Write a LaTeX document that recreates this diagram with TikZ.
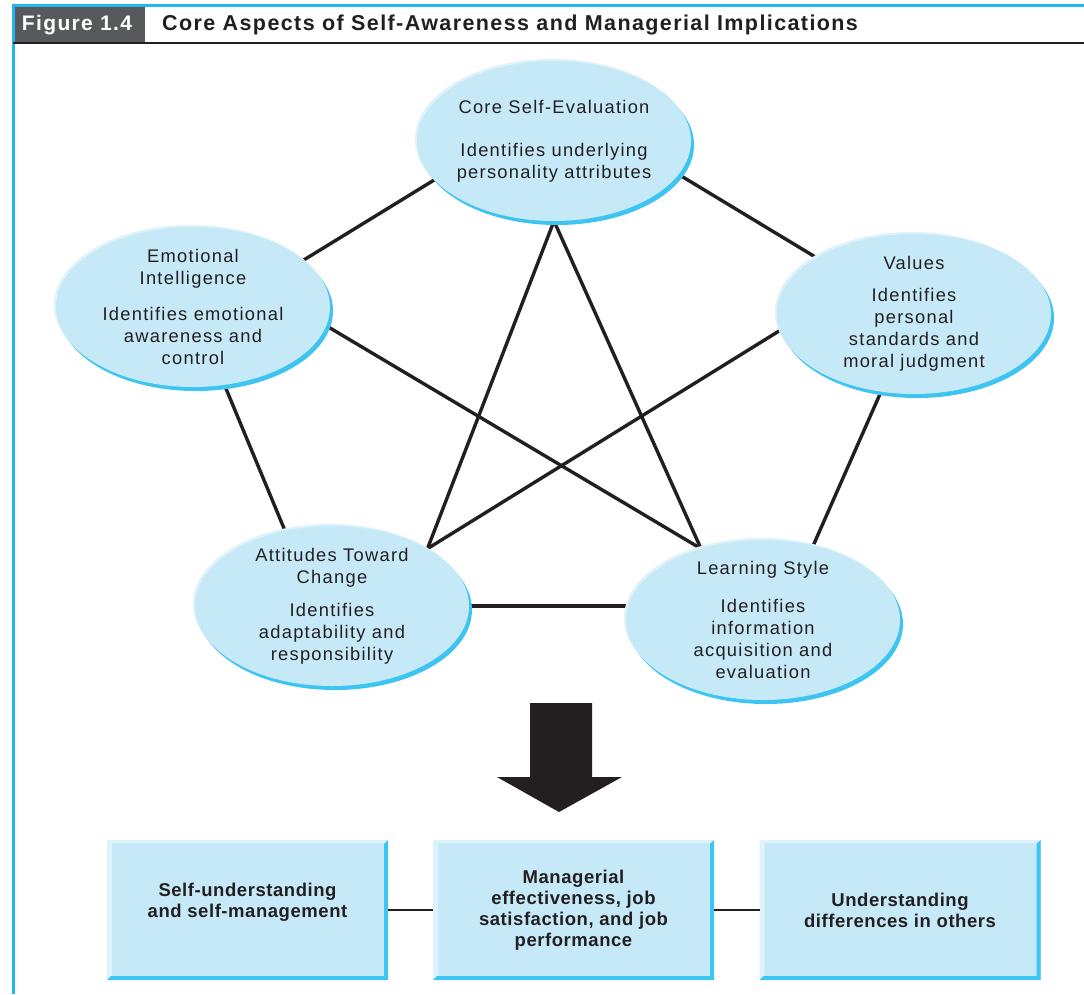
\documentclass[tikz,border=0pt]{standalone}
\usepackage{fontspec}
\setmainfont{Liberation Sans}
\newfontfamily\efont[LetterSpace=7]{Liberation Sans}
\newfontfamily\bxfont[LetterSpace=3]{Liberation Sans}
\newfontfamily\hdfont[LetterSpace=6.5]{Liberation Sans}
\usetikzlibrary{shapes.geometric,shadows,backgrounds}
\definecolor{ellfill}{HTML}{C6E9F8}
\definecolor{ellsh}{HTML}{3EC4F1}
\definecolor{ellhi}{HTML}{DDF2FB}
\definecolor{ink}{HTML}{231F20}
\definecolor{hdr}{HTML}{58595B}
\definecolor{frameblue}{HTML}{22B5EE}
\begin{document}
\begin{tikzpicture}[x=1pt,y=-1pt,
  ell/.style={ellipse, inner sep=0pt, outer sep=0pt, minimum width=274pt, minimum height=160pt, fill=ellfill,
    general shadow={fill=ellhi, shadow xshift=-2pt, shadow yshift=2pt},
    general shadow={fill=ellsh, shadow xshift=3pt, shadow yshift=-4pt}},
  etxt/.style={align=center, text=ink, inner sep=0pt, font=\efont\fontsize{18.3}{22}\selectfont},
  bx/.style={rectangle, inner sep=0pt, outer sep=0pt, minimum width=281pt, minimum height=140pt,
    fill=ellfill, align=center, text=ink, font=\bxfont\bfseries\fontsize{18.5}{21}\selectfont,
    path picture={
      \fill[ellhi] (path picture bounding box.south west) -- (path picture bounding box.north west)
        -- (path picture bounding box.north east) -- ([shift={(-4pt,-3pt)}]path picture bounding box.north east)
        -- ([shift={(5pt,-3pt)}]path picture bounding box.north west) -- ([shift={(5pt,3pt)}]path picture bounding box.south west) -- cycle;
      \fill[ellsh] (path picture bounding box.north east) -- (path picture bounding box.south east)
        -- (path picture bounding box.south west) -- ([shift={(4pt,4pt)}]path picture bounding box.south west)
        -- ([shift={(-4pt,4pt)}]path picture bounding box.south east) -- ([shift={(-4pt,-4pt)}]path picture bounding box.north east) -- cycle;
    }},
  link/.style={line width=3.4pt, draw=ink},
  blink/.style={line width=1.5pt, draw=ink}]
\useasboundingbox (0,0) rectangle (1084,994);
% frame and header
\fill[hdr] (14,7) rectangle (145,42);
\draw[frameblue, line width=2.5pt] (13.5,994) -- (13.5,5.5) -- (1084,5.5);
\draw[ink, line width=2pt] (13,43) -- (1084,43);
\node[text=white, font=\hdfont\bfseries\fontsize{21}{24}\selectfont, inner sep=0pt] (fig) at (77,25) {Figure 1.4};
\node[text=ink, font=\hdfont\bfseries\fontsize{21.5}{24}\selectfont, inner sep=0pt, anchor=west] (title) at (162,25) {Core Aspects of Self-Awareness and Managerial Implications};
% ellipses
\node[ell, label={[etxt]center:{Core Self-Evaluation\\[21pt]Identifies underlying\\personality attributes}}] (core) at (554,141) {};
\node[ell, label={[etxt]center:{Emotional\\Intelligence\\[14pt]Identifies emotional\\awareness and\\control}}] (ei) at (193,307) {};
\node[ell, label={[etxt]center:{Values\\[10pt]Identifies\\personal\\standards and\\moral judgment}}] (val) at (914,314) {};
\node[ell, label={[etxt]center:{Attitudes Toward\\Change\\[11pt]Identifies\\adaptability and\\responsibility}}] (atc) at (332,606) {};
\node[ell, label={[etxt]center:{Learning Style\\[16pt]Identifies\\information\\acquisition and\\evaluation}}] (ls) at (763,620) {};
% connectors
\begin{scope}[on background layer]
\fill[white] (0,0) rectangle (1084,994);
\draw[link] (core.198) -- (ei.23);
\draw[link] (core.345) -- (val.150);
\draw[link] (ei.292) -- (atc.122);
\draw[link] (val.247) -- (ls.56);
\draw[link] (atc.east) -- (atc.east -| ls.west);
\draw[link] (core.south) -- (atc.31);
\draw[link] (core.south) -- (ls.131);
\draw[link] (ei.352) -- (ls.131);
\draw[link] (val.187) -- (atc.31);
\end{scope}
% big arrow
\fill[ink] (530,703) -- (592,703) -- (592,777) -- (622,777) -- (559,812) -- (497,777) -- (530,777) -- cycle;
% boxes
\node[bx] (b1) at (247.5,910) {Self-understanding\\and self-management\\[-8pt]\strut};
\node[bx] (b2) at (573.5,910) {Managerial\\effectiveness, job\\satisfaction, and job\\performance};
\node[bx] (b3) at (900,910) {Understanding\\differences in others};
\draw[blink] (b1.east) -- (b2.west);
\draw[blink] (b2.east) -- (b3.west);
\end{tikzpicture}
\end{document}
